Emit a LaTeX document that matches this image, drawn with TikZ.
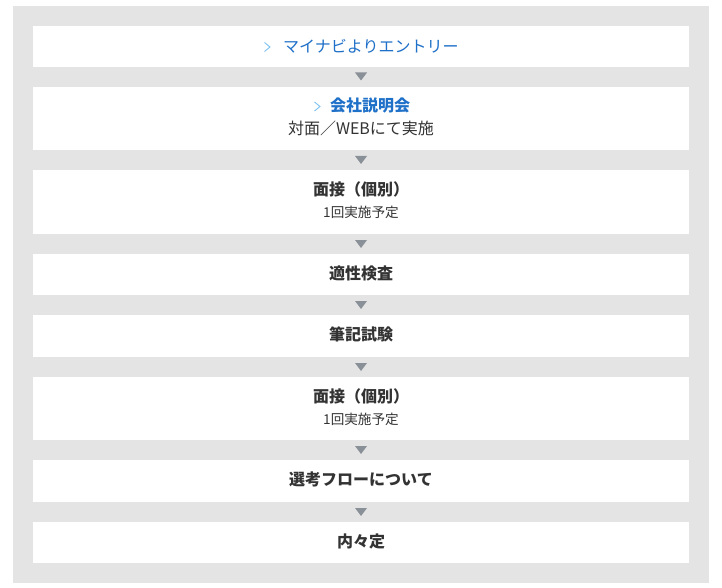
\documentclass[tikz,border=0pt]{standalone}
\usepackage{fontspec}
\setmainfont{Noto Sans CJK JP}
\newfontfamily\jp{Noto Sans CJK JP}
\definecolor{bggray}{HTML}{E4E4E4}
\definecolor{txt}{HTML}{333333}
\definecolor{linkblue}{HTML}{1E70C8}
\definecolor{chev}{HTML}{7CC2F0}
\definecolor{arr}{HTML}{8A9097}
\begin{document}
\begin{tikzpicture}[x=1pt,y=-1pt,
  stepbox/.style={fill=white,draw=none},
  arrtri/.style={fill=arr,draw=none},
  main/.style={font=\jp\fontsize{16}{19}\selectfont,text=txt,inner sep=0},
  mainb/.style={font=\jp\bfseries\fontsize{16}{19}\selectfont,text=txt,inner sep=0},
  sub/.style={font=\jp\fontsize{13.6}{16}\selectfont,text=txt,inner sep=0},
  chevron/.style={draw=chev,line width=0.9pt}
]
\useasboundingbox (0,0) rectangle (722,588);
\fill[bggray] (13,6) rectangle (709,583);
% boxes
\fill[white] (33,26) rectangle (689,67);
\fill[white] (33,87) rectangle (689,150);
\fill[white] (33,170) rectangle (689,234);
\fill[white] (33,254) rectangle (689,295);
\fill[white] (33,315) rectangle (689,357);
\fill[white] (33,377) rectangle (689,440);
\fill[white] (33,460) rectangle (689,502);
\fill[white] (33,522) rectangle (689,563);
% arrows
\foreach \y in {76.5,160,244,305,367,450,512}{
  \fill[arr] (355,\y-4) -- (367,\y-4) -- (361,\y+4) -- cycle;
}
% box 1
\node[main,text=linkblue,anchor=west] (t1) at (283,46) {マイナビよりエントリー};
\draw[chevron] (264.5,42.5) -- (270,47) -- (264.5,51.5);
% box 2
\node[mainb,text=linkblue,anchor=west] (t2) at (330,105) {会社説明会};
\draw[chevron] (314.5,102) -- (320,106.5) -- (314.5,111);
\node[main] (t2b) at (361,128) {対面／WEBにて実施};
% box 3
\node[mainb] (t3) at (361,189) {面接（個別）};
\node[sub] (t3b) at (361,212) {1回実施予定};
% box 4
\node[mainb] (t4) at (361,273) {適性検査};
% box 5
\node[mainb] (t5) at (361,334) {筆記試験};
% box 6
\node[mainb] (t6) at (361,396) {面接（個別）};
\node[sub] (t6b) at (361,419) {1回実施予定};
% box 7
\node[mainb] (t7) at (361,479) {選考フローについて};
% box 8
\node[mainb] (t8) at (361,541) {内々定};
\end{tikzpicture}
\end{document}
